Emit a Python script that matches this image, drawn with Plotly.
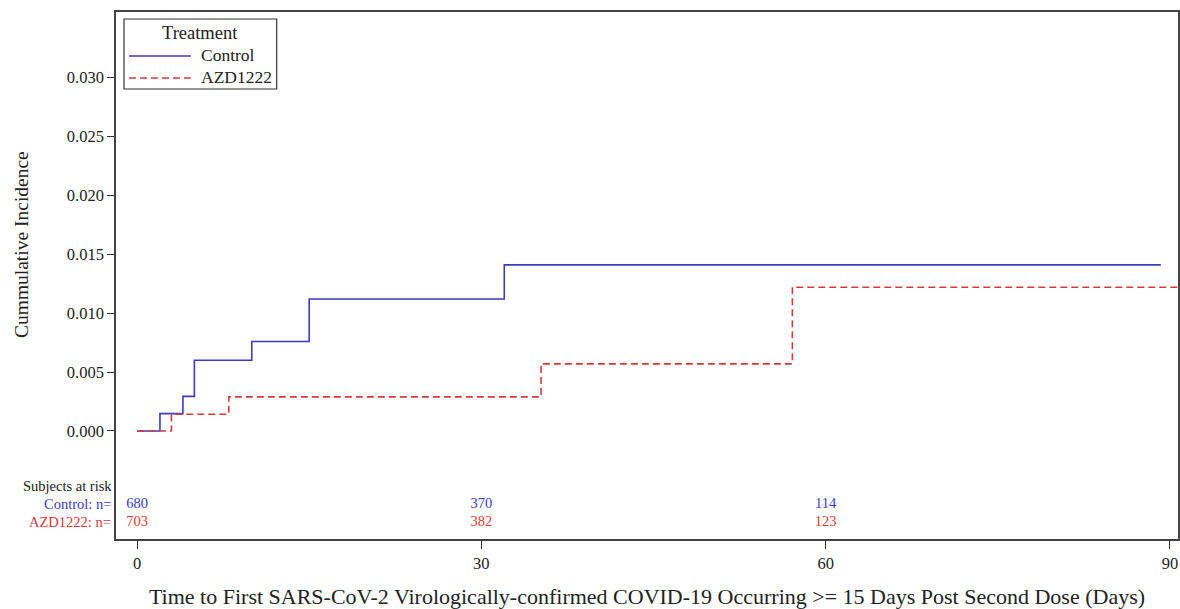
import plotly.graph_objects as go

# Data
control_days = [0, 2, 4, 5, 10, 15, 32, 89.2]
control_inc = [0.0, 0.00147, 0.00294, 0.0060, 0.0076, 0.0112, 0.0141, 0.0141]
azd_days = [0, 3, 8, 35.2, 57.1, 90.7]
azd_inc = [0.0, 0.00142, 0.0029, 0.0057, 0.0122, 0.0122]

risk_days = [0, 30, 60]
control_risk = [680, 370, 114]
azd_risk = [703, 382, 123]

x_ticks = [0, 30, 60, 90]
y_ticks = [0.0, 0.005, 0.010, 0.015, 0.020, 0.025, 0.030]

BLUE = "#3b3bbf"
RED = "#d43c3c"
FONT = "Liberation Serif"
TABLE_SIZE = 14.5
DASH = "7px,4px"

# plot area geometry in pixels (for paper-coordinate placement of legend)
L, R, T, B = 116, 1180, 12, 539
def px(x):
    return (x - L) / (R - L)
def py(y):
    return (B - y) / (B - T)

fig = go.Figure()
fig.add_trace(go.Scatter(x=control_days, y=control_inc, mode="lines", name="Control",
                         line=dict(color=BLUE, width=1.6, shape="hv"), showlegend=False))
fig.add_trace(go.Scatter(x=azd_days, y=azd_inc, mode="lines", name="AZD1222",
                         line=dict(color=RED, width=1.6, shape="hv", dash=DASH), showlegend=False))

# at-risk table rows
fig.add_trace(go.Scatter(x=risk_days, y=[-0.0062] * len(risk_days), mode="text",
                         text=[str(v) for v in control_risk], showlegend=False,
                         textfont=dict(family=FONT, size=TABLE_SIZE, color=BLUE), hoverinfo="skip"))
fig.add_trace(go.Scatter(x=risk_days, y=[-0.00775] * len(risk_days), mode="text",
                         text=[str(v) for v in azd_risk], showlegend=False,
                         textfont=dict(family=FONT, size=TABLE_SIZE, color=RED), hoverinfo="skip"))

ann = [
    dict(text="Subjects at risk", x=0, xref="paper", y=-0.00468, yref="y",
         xanchor="right", yanchor="middle", xshift=-2, showarrow=False,
         font=dict(family=FONT, size=TABLE_SIZE, color="#222")),
    dict(text="Control: n=", x=0, xref="paper", y=-0.0062, yref="y",
         xanchor="right", yanchor="middle", xshift=-3, showarrow=False,
         font=dict(family=FONT, size=TABLE_SIZE, color=BLUE)),
    dict(text="AZD1222: n=", x=0, xref="paper", y=-0.00775, yref="y",
         xanchor="right", yanchor="middle", xshift=-3, showarrow=False,
         font=dict(family=FONT, size=TABLE_SIZE, color=RED)),
    # y-axis title
    dict(text="Cummulative Incidence", x=px(22), xref="paper", y=0.0158, yref="y",
         textangle=-90, xanchor="center", yanchor="middle", showarrow=False,
         font=dict(family=FONT, size=19.5, color="#222")),
    # legend
    dict(text="Treatment", x=px(200), xref="paper", y=py(33), yref="paper",
         xanchor="center", yanchor="middle", showarrow=False,
         font=dict(family=FONT, size=18.5, color="#222")),
    dict(text="Control", x=px(199), xref="paper", y=py(55), yref="paper",
         xanchor="left", yanchor="middle", showarrow=False,
         font=dict(family=FONT, size=17.5, color="#222")),
    dict(text="AZD1222", x=px(199), xref="paper", y=py(77), yref="paper",
         xanchor="left", yanchor="middle", showarrow=False,
         font=dict(family=FONT, size=17.5, color="#222")),
]

shapes = [
    dict(type="rect", xref="paper", yref="paper", x0=px(124), x1=px(277), y0=py(89), y1=py(19),
         line=dict(color="#333", width=1.2), fillcolor="white", layer="above"),
    dict(type="line", xref="paper", yref="paper", x0=px(129), x1=px(191), y0=py(56), y1=py(56),
         line=dict(color=BLUE, width=1.6), layer="above"),
    dict(type="line", xref="paper", yref="paper", x0=px(129), x1=px(191), y0=py(78), y1=py(78),
         line=dict(color=RED, width=1.6, dash=DASH), layer="above"),
]

fig.update_layout(
    width=1180, height=609,
    margin=dict(l=L, r=1180 - R, t=T, b=609 - B),
    paper_bgcolor="white", plot_bgcolor="white",
    font=dict(family=FONT, size=16, color="#222"),
    annotations=ann, shapes=shapes, showlegend=False,
    xaxis=dict(
        range=[-1.83, 90.7], tickvals=x_ticks, ticks="outside", ticklen=8,
        tickcolor="#333", showline=True, linecolor="#444", linewidth=1.5,
        mirror=True, showgrid=False, zeroline=False,
        tickfont=dict(family=FONT, size=16.5),
        title=dict(text="Time to First SARS-CoV-2 Virologically-confirmed COVID-19 Occurring >= 15 Days Post Second Dose (Days)",
                   font=dict(family=FONT, size=22), standoff=18),
    ),
    yaxis=dict(
        range=[-0.00917, 0.03557], tickvals=y_ticks, tickformat=".3f",
        ticks="outside", ticklen=7, tickcolor="#333",
        showline=True, linecolor="#444", linewidth=1.5, mirror=True,
        showgrid=False, zeroline=False,
        tickfont=dict(family=FONT, size=16.5),
    ),
)

fig.write_html("out.html")
